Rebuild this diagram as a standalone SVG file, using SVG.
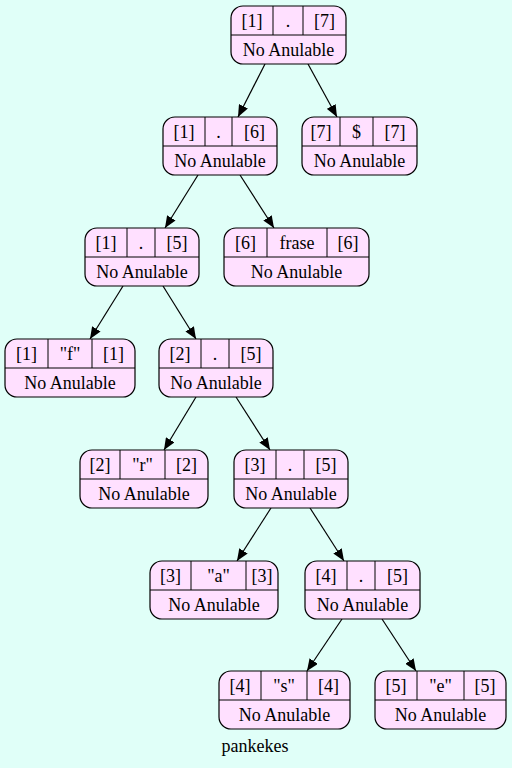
<svg xmlns="http://www.w3.org/2000/svg" width="512" height="768" viewBox="0 0 512 768">
<defs>
<style>
.n rect{fill:#ffe0ff;stroke:#000;stroke-width:1.2}
.n line{stroke:#000;stroke-width:1}
.t text{font-size:18px;fill:#000;text-anchor:middle}
.e line{stroke:#000;stroke-width:1.2;marker-end:url(#ah)}
</style>
<marker id="ah" viewBox="0 0 12 10" refX="12" refY="5" markerWidth="12" markerHeight="10" markerUnits="userSpaceOnUse" orient="auto">
<path d="M0,0 L12,5 L0,10 z" fill="#000"/>
</marker>
</defs>
<rect width="512" height="768" fill="#e0fff8"/>
<g class="e">
<line x1="265" y1="64" x2="238" y2="117"/>
<line x1="308" y1="64" x2="337" y2="117"/>
<line x1="198" y1="175" x2="165" y2="228"/>
<line x1="240" y1="175" x2="274" y2="228"/>
<line x1="123" y1="286" x2="90" y2="339"/>
<line x1="163" y1="286" x2="196" y2="339"/>
<line x1="196" y1="397" x2="164" y2="450"/>
<line x1="236" y1="397" x2="270" y2="450"/>
<line x1="271" y1="508" x2="237" y2="561"/>
<line x1="310" y1="508" x2="344" y2="561"/>
<line x1="342" y1="619" x2="307" y2="671"/>
<line x1="382" y1="619" x2="416" y2="671"/>
</g>
<g class="t" font-family="Liberation Serif, Times New Roman, serif">
<g id="n1" class="n"><rect x="231" y="6" width="115" height="58" rx="12"/><line x1="231" y1="35" x2="346" y2="35"/><line x1="273" y1="6" x2="273" y2="35"/><line x1="303" y1="6" x2="303" y2="35"/><text x="252" y="27">[1]</text><text x="288" y="27">.</text><text x="324.5" y="27">[7]</text><text x="288.5" y="56">No Anulable</text></g>
<g id="n2" class="n"><rect x="163" y="117" width="114" height="58" rx="12"/><line x1="163" y1="146" x2="277" y2="146"/><line x1="205" y1="117" x2="205" y2="146"/><line x1="232" y1="117" x2="232" y2="146"/><text x="184" y="138">[1]</text><text x="218.5" y="138">.</text><text x="254.5" y="138">[6]</text><text x="220" y="167">No Anulable</text></g>
<g id="n3" class="n"><rect x="302" y="117" width="115" height="58" rx="12"/><line x1="302" y1="146" x2="417" y2="146"/><line x1="340" y1="117" x2="340" y2="146"/><line x1="373" y1="117" x2="373" y2="146"/><text x="321" y="138">[7]</text><text x="356.5" y="138">$</text><text x="395" y="138">[7]</text><text x="359.5" y="167">No Anulable</text></g>
<g id="n4" class="n"><rect x="85" y="228" width="114" height="58" rx="12"/><line x1="85" y1="257" x2="199" y2="257"/><line x1="127" y1="228" x2="127" y2="257"/><line x1="155" y1="228" x2="155" y2="257"/><text x="106" y="249">[1]</text><text x="141" y="249">.</text><text x="177" y="249">[5]</text><text x="142" y="278">No Anulable</text></g>
<g id="n5" class="n"><rect x="224" y="228" width="145" height="58" rx="12"/><line x1="224" y1="257" x2="369" y2="257"/><line x1="267" y1="228" x2="267" y2="257"/><line x1="327" y1="228" x2="327" y2="257"/><text x="245.5" y="249">[6]</text><text x="297" y="249">frase</text><text x="348" y="249">[6]</text><text x="296.5" y="278">No Anulable</text></g>
<g id="n6" class="n"><rect x="5" y="339" width="130" height="58" rx="12"/><line x1="5" y1="368" x2="135" y2="368"/><line x1="48" y1="339" x2="48" y2="368"/><line x1="92" y1="339" x2="92" y2="368"/><text x="26.5" y="360">[1]</text><text x="70" y="360">"f"</text><text x="113.5" y="360">[1]</text><text x="70" y="389">No Anulable</text></g>
<g id="n7" class="n"><rect x="159" y="339" width="114" height="58" rx="12"/><line x1="159" y1="368" x2="273" y2="368"/><line x1="201" y1="339" x2="201" y2="368"/><line x1="229" y1="339" x2="229" y2="368"/><text x="180" y="360">[2]</text><text x="215" y="360">.</text><text x="251" y="360">[5]</text><text x="216" y="389">No Anulable</text></g>
<g id="n8" class="n"><rect x="80" y="450" width="128" height="58" rx="12"/><line x1="80" y1="479" x2="208" y2="479"/><line x1="120" y1="450" x2="120" y2="479"/><line x1="165" y1="450" x2="165" y2="479"/><text x="100" y="471">[2]</text><text x="142.5" y="471">"r"</text><text x="186.5" y="471">[2]</text><text x="144" y="500">No Anulable</text></g>
<g id="n9" class="n"><rect x="234" y="450" width="114" height="58" rx="12"/><line x1="234" y1="479" x2="348" y2="479"/><line x1="276" y1="450" x2="276" y2="479"/><line x1="304" y1="450" x2="304" y2="479"/><text x="255" y="471">[3]</text><text x="290" y="471">.</text><text x="326" y="471">[5]</text><text x="291" y="500">No Anulable</text></g>
<g id="n10" class="n"><rect x="150" y="561" width="128" height="58" rx="12"/><line x1="150" y1="590" x2="278" y2="590"/><line x1="191" y1="561" x2="191" y2="590"/><line x1="246" y1="561" x2="246" y2="590"/><text x="170.5" y="582">[3]</text><text x="218.5" y="582">"a"</text><text x="262" y="582">[3]</text><text x="214" y="611">No Anulable</text></g>
<g id="n11" class="n"><rect x="305" y="561" width="115" height="58" rx="12"/><line x1="305" y1="590" x2="420" y2="590"/><line x1="347" y1="561" x2="347" y2="590"/><line x1="375" y1="561" x2="375" y2="590"/><text x="326" y="582">[4]</text><text x="361" y="582">.</text><text x="397.5" y="582">[5]</text><text x="362.5" y="611">No Anulable</text></g>
<g id="n12" class="n"><rect x="219" y="671" width="131" height="58" rx="12"/><line x1="219" y1="700" x2="350" y2="700"/><line x1="261" y1="671" x2="261" y2="700"/><line x1="307" y1="671" x2="307" y2="700"/><text x="240" y="692">[4]</text><text x="284" y="692">"s"</text><text x="328.5" y="692">[4]</text><text x="284.5" y="721">No Anulable</text></g>
<g id="n13" class="n"><rect x="375" y="671" width="131" height="58" rx="12"/><line x1="375" y1="700" x2="506" y2="700"/><line x1="417" y1="671" x2="417" y2="700"/><line x1="464" y1="671" x2="464" y2="700"/><text x="396" y="692">[5]</text><text x="440.5" y="692">"e"</text><text x="485" y="692">[5]</text><text x="440.5" y="721">No Anulable</text></g>
<text x="255" y="752">pankekes</text>
</g>
</svg>
